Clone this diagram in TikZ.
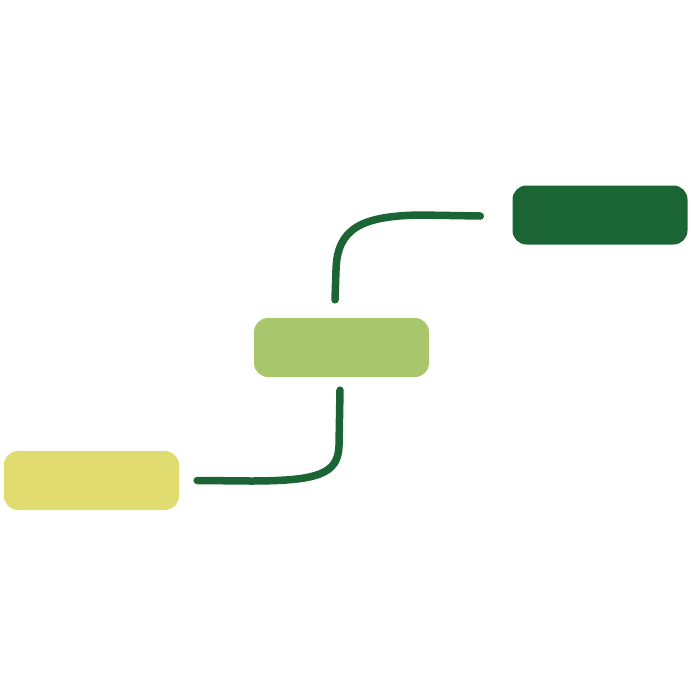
\documentclass[tikz,border=0pt]{standalone}
\begin{document}
\begin{tikzpicture}[x=1pt,y=-1pt,
  box/.style={rounded corners=14pt, minimum width=175pt, minimum height=59pt, inner sep=0pt, draw=none},
  link/.style={draw=dkgreen, line width=7.5pt, line cap=round}]
\definecolor{ylw}{HTML}{E0DC70}
\definecolor{ltgreen}{HTML}{A8C66C}
\definecolor{dkgreen}{HTML}{1B6535}
\useasboundingbox (0,0) rectangle (691,691);
\node[box, fill=ylw] (low) at (91.5,480.5) {};
\node[box, fill=ltgreen] (mid) at (341.5,347.5) {};
\node[box, fill=dkgreen] (top) at (600,215) {};
\coordinate (a1) at ([xshift=18pt]low.east);
\coordinate (a2) at ([xshift=-1.5pt,yshift=-13pt]mid.south);
\coordinate (b1) at ([xshift=-6.5pt,yshift=18pt]mid.north);
\coordinate (b2) at ([xshift=-32pt,yshift=-1pt]top.west);
\draw[link] (a1) -- (250,481) .. controls (318,481) and (338,474) .. (339,446) -- (a2);
\draw[link] (b1) -- (336,270) .. controls (337,228) and (362,216) .. (420,215) -- (b2);
\end{tikzpicture}
\end{document}
